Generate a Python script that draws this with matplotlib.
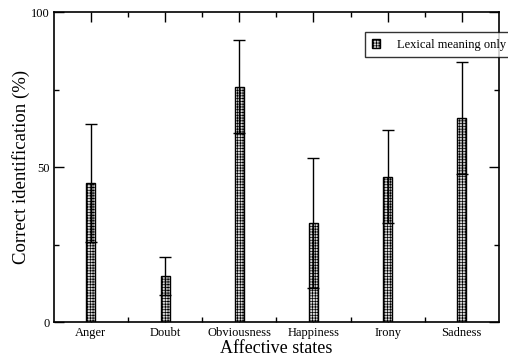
import matplotlib
matplotlib.use("Agg")
import matplotlib.pyplot as plt
import numpy as np

plt.rcParams['font.family'] = ['Liberation Serif', 'DejaVu Serif']
plt.rcParams['hatch.color'] = '#8a8a8a'
plt.rcParams['hatch.linewidth'] = 0.5

categories = ["Anger", "Doubt", "Obviousness", "Happiness", "Irony", "Sadness"]
values = [45, 15, 76, 32, 47, 66]
errors = [19, 6, 15, 21, 15, 18]
series_label = "Lexical meaning only"

fig = plt.figure(figsize=(5.08, 3.63), dpi=100)
ax = fig.add_axes([0.106, 0.1116, 0.876, 0.855])

x = np.arange(1, len(categories) + 1)
ax.bar(x, values, width=0.12, facecolor='#d8d8d8', edgecolor='black',
       linewidth=1.0, hatch='++++++', label=series_label, zorder=2)
ax.errorbar(x, values, yerr=errors, fmt='none', ecolor='black',
            elinewidth=1.0, capsize=4.5, capthick=1.0, zorder=3)

ax.set_xlim(0.5, 6.5)
ax.set_ylim(0, 100)
ax.set_xticks(x)
ax.set_xticklabels(categories, fontsize=9)
ax.set_xticks(np.arange(1.5, 6.5, 1.0), minor=True)
ax.set_yticks([0, 50, 100])
ax.set_yticklabels(["0", "50", "100"], fontsize=9)
ax.set_yticks([25, 75], minor=True)
ax.tick_params(which='major', direction='in', length=7, width=1.0,
               top=True, right=True, pad=3)
ax.tick_params(which='minor', direction='in', length=3.5, width=1.0,
               top=True, right=True)
for s in ax.spines.values():
    s.set_linewidth(1.2)

ax.set_xlabel("Affective states", fontsize=13, labelpad=1)
ax.set_ylabel("Correct identification (%)", fontsize=13.5, labelpad=1)

leg = ax.legend(loc='upper left', bbox_to_anchor=(0.70, 0.935),
                fontsize=9, frameon=True, fancybox=False,
                edgecolor='black', handlelength=0.7, handleheight=0.7,
                borderpad=0.5, handletextpad=1.3, borderaxespad=0)
leg.get_frame().set_linewidth(1.0)
leg.set_zorder(5)

fig.savefig("out.png", dpi=100)
